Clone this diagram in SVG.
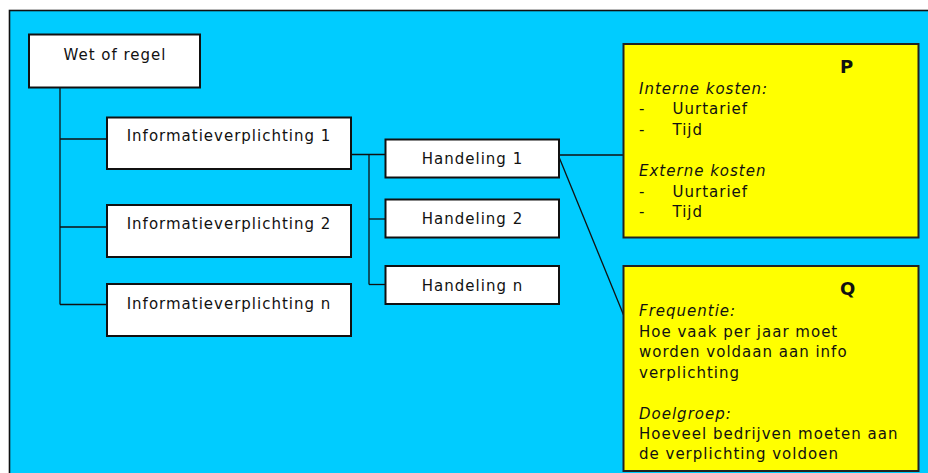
<svg xmlns="http://www.w3.org/2000/svg" width="928" height="473" viewBox="0 0 928 473">
  <style>
    .box { fill: #ffffff; stroke: #111111; stroke-width: 2; }
    .note { fill: #ffff00; stroke: #222222; stroke-width: 2; }
    .lbl { font-family: "DejaVu Sans", Verdana, sans-serif; font-size: 15px; letter-spacing: 1px; fill: #111111; }
    .mid { text-anchor: middle; }
    .it { font-style: italic; }
    .head { font-family: "DejaVu Sans", Verdana, sans-serif; font-size: 18px; font-weight: bold; fill: #111111; }
    .wire { fill: none; stroke: #111111; stroke-width: 1.3; }
  </style>

  <!-- page and canvas -->
  <rect x="0" y="0" width="928" height="473" fill="#ffffff"/>
  <rect x="9.5" y="10.5" width="940" height="480" fill="#00ccff" stroke="#111111" stroke-width="1.6"/>

  <!-- connectors -->
  <g id="connectors" class="wire">
    <path d="M60,88 V304.5"/>
    <path d="M60,139 H107"/>
    <path d="M60,227 H107"/>
    <path d="M60,304.5 H107"/>
    <path d="M351,154.5 H385"/>
    <path d="M369,154.5 V284.5"/>
    <path d="M369,219 H385"/>
    <path d="M369,284.5 H385"/>
    <path d="M559,155 H623"/>
    <path d="M559,157 L624,316"/>
  </g>

  <g id="wet">
    <rect class="box" x="29" y="34.5" width="171" height="53"/>
    <text class="lbl mid" x="115" y="60">Wet of regel</text>
  </g>

  <g id="iv1">
    <rect class="box" x="107" y="117.5" width="244" height="51.5"/>
    <text class="lbl mid" x="229" y="141">Informatieverplichting 1</text>
  </g>
  <g id="iv2">
    <rect class="box" x="107" y="205" width="244" height="52"/>
    <text class="lbl mid" x="229" y="229">Informatieverplichting 2</text>
  </g>
  <g id="ivn">
    <rect class="box" x="107" y="284" width="244" height="52"/>
    <text class="lbl mid" x="229" y="309">Informatieverplichting n</text>
  </g>

  <g id="h1">
    <rect class="box" x="385.5" y="139.5" width="173.5" height="38"/>
    <text class="lbl mid" x="472.5" y="163.5">Handeling 1</text>
  </g>
  <g id="h2">
    <rect class="box" x="385.5" y="199.5" width="173.5" height="38"/>
    <text class="lbl mid" x="472.5" y="224">Handeling 2</text>
  </g>
  <g id="hn">
    <rect class="box" x="385.5" y="266" width="173.5" height="38"/>
    <text class="lbl mid" x="472.5" y="291">Handeling n</text>
  </g>

  <g id="p">
    <rect class="note" x="623.5" y="44" width="295" height="193.5"/>
    <text class="head" x="840" y="72.5">P</text>
    <text class="lbl it" x="639" y="93.5">Interne kosten:</text>
    <text class="lbl" x="639" y="114">-</text>
    <text class="lbl" x="672.5" y="114">Uurtarief</text>
    <text class="lbl" x="639" y="134.5">-</text>
    <text class="lbl" x="672.5" y="134.5">Tijd</text>
    <text class="lbl it" x="639" y="176">Externe kosten</text>
    <text class="lbl" x="639" y="196.5">-</text>
    <text class="lbl" x="672.5" y="196.5">Uurtarief</text>
    <text class="lbl" x="639" y="217">-</text>
    <text class="lbl" x="672.5" y="217">Tijd</text>
  </g>

  <g id="q">
    <rect class="note" x="623.5" y="266" width="295" height="205"/>
    <text class="head" x="840" y="295">Q</text>
    <text class="lbl it" x="639" y="315.5">Frequentie:</text>
    <text class="lbl" x="639" y="336.5">Hoe vaak per jaar moet</text>
    <text class="lbl" x="639" y="357">worden voldaan aan info</text>
    <text class="lbl" x="639" y="377.5">verplichting</text>
    <text class="lbl it" x="639" y="419">Doelgroep:</text>
    <text class="lbl" x="639" y="439">Hoeveel bedrijven moeten aan</text>
    <text class="lbl" x="639" y="459">de verplichting voldoen</text>
  </g>
</svg>
